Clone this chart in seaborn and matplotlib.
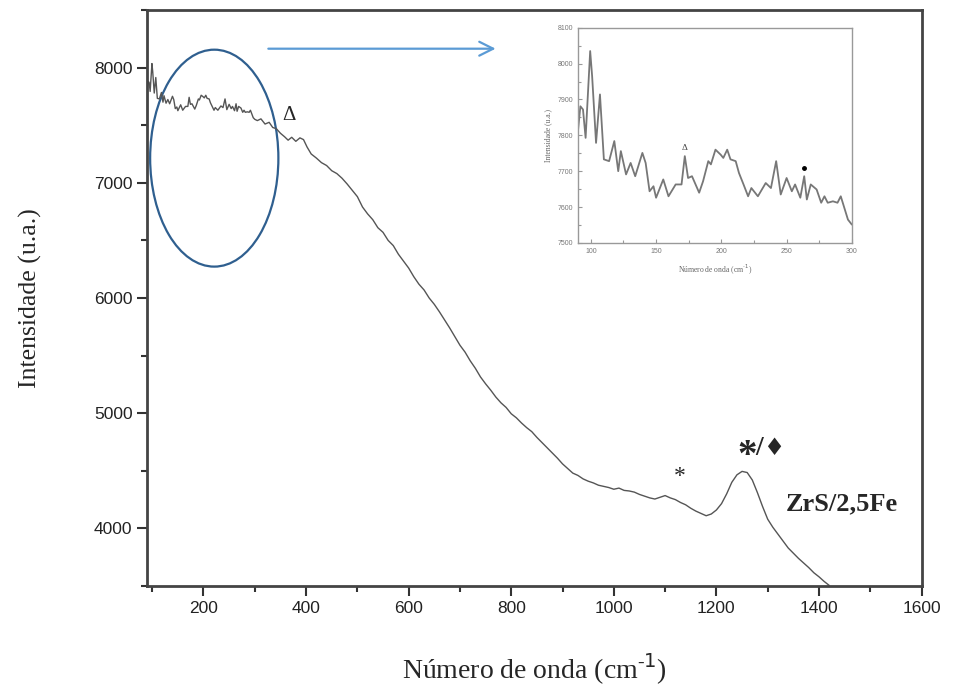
import matplotlib
matplotlib.use("Agg")
import matplotlib.pyplot as plt
import seaborn as sns
import numpy as np
import pandas as pd
from matplotlib.patches import Ellipse
from matplotlib.ticker import MultipleLocator

# ---- data ----
# low wavenumber region (also shown in the inset)
x_low = [90, 92, 94, 96, 99.5, 101, 104, 107, 110, 114, 118, 121, 123, 127, 130.5, 134,
         139.5, 142, 145, 148, 150, 155.5, 159.5, 165, 169.5, 172, 174.5, 177.5, 183, 186,
         190, 192, 195.5, 199.5, 201.5, 204.5, 207, 211, 213.5, 217, 220.5, 223, 228, 234,
         238, 242, 245.5, 250, 254, 256.5, 260.5, 263.5, 265.5, 268.5, 273, 276.5, 279,
         281.5, 285.5, 289, 291.5, 297, 300]
y_low = [7807, 7881, 7872, 7793, 8035, 7965, 7779, 7914, 7733, 7728, 7784, 7700, 7756, 7691,
         7723, 7686, 7751, 7723, 7644, 7658, 7626, 7677, 7630, 7663, 7663, 7742, 7681, 7686,
         7640, 7672, 7728, 7719, 7760, 7746, 7737, 7760, 7733, 7728, 7695, 7663, 7630, 7653,
         7630, 7667, 7653, 7728, 7635, 7681, 7644, 7663, 7626, 7686, 7621, 7663, 7649, 7612,
         7630, 7612, 7616, 7612, 7630, 7565, 7551]

x_high = [305, 312, 320, 328, 335, 342, 350, 358, 365, 372, 380, 388, 395, 402, 410, 420,
          430, 440, 450, 460, 470, 480, 490, 500, 510, 520, 530, 540, 550, 560, 570, 580,
          590, 600, 610, 620, 630, 640, 650, 660, 670, 680, 690, 700, 710, 720, 730, 740,
          750, 760, 770, 780, 790, 800, 810, 820, 830, 840, 850, 860, 870, 880, 890, 900,
          910, 920, 930, 940, 950, 960, 970, 980, 990, 1000, 1010, 1020, 1030, 1040, 1050,
          1060, 1070, 1080, 1090, 1100, 1110, 1120, 1130, 1140, 1150, 1160, 1170, 1180,
          1190, 1200, 1210, 1220, 1230, 1240, 1250, 1260, 1270, 1280, 1290, 1300, 1310,
          1320, 1330, 1340, 1350, 1360, 1370, 1380, 1390, 1400, 1410, 1420]
y_high = [7540, 7555, 7510, 7525, 7480, 7470, 7430, 7400, 7370, 7395, 7360, 7390, 7375, 7310,
          7250, 7215, 7175, 7150, 7105, 7080, 7040, 6990, 6935, 6880, 6790, 6730, 6680, 6610,
          6570, 6500, 6455, 6380, 6320, 6260, 6185, 6120, 6070, 6000, 5945, 5880, 5810, 5740,
          5665, 5590, 5530, 5455, 5390, 5315, 5255, 5200, 5140, 5090, 5050, 4995, 4960, 4915,
          4875, 4840, 4790, 4745, 4700, 4655, 4610, 4560, 4520, 4480, 4460, 4430, 4410, 4395,
          4375, 4365, 4355, 4340, 4350, 4330, 4325, 4315, 4295, 4280, 4265, 4255, 4270, 4285,
          4265, 4250, 4225, 4205, 4175, 4150, 4130, 4110, 4125, 4160, 4215, 4300, 4400, 4465,
          4495, 4485, 4420, 4310, 4190, 4080, 4010, 3950, 3890, 3830, 3785, 3740, 3700, 3660,
          3615, 3580, 3540, 3505]

main_df = pd.DataFrame({"x": x_low + x_high, "y": y_low + y_high})
inset_df = pd.DataFrame({"x": x_low, "y": y_low})

x_ticks = [200, 400, 600, 800, 1000, 1200, 1400, 1600]
y_ticks = [4000, 5000, 6000, 7000, 8000]
inset_xticks = [100, 150, 200, 250, 300]
inset_yticks = [7500, 7600, 7700, 7800, 7900, 8000, 8100]

# ---- style ----
sns.set_style("ticks")
plt.rcParams["font.family"] = ["Liberation Sans", "DejaVu Sans"]

fig = plt.figure(figsize=(9.55, 6.94), dpi=100)
ax = fig.add_axes([0.154, 0.1556, 0.811, 0.830])

sns.lineplot(data=main_df, x="x", y="y", ax=ax, color="#555555", linewidth=1.0,
             sort=False, estimator=None)

ax.set_xlim(90, 1600)
ax.set_ylim(3500, 8500)
ax.set_xticks(x_ticks)
ax.set_yticks(y_ticks)
ax.xaxis.set_minor_locator(MultipleLocator(100))
ax.yaxis.set_minor_locator(MultipleLocator(500))
ax.tick_params(axis="both", which="major", direction="out", length=7, width=1.5,
               labelsize=12.5, colors="#333333", labelcolor="#222222")
ax.tick_params(axis="both", which="minor", direction="out", length=4, width=1.5,
               colors="#333333")
for s in ax.spines.values():
    s.set_color("#444444")
    s.set_linewidth(2)
    s.set_visible(True)

ax.set_xlabel("Número de onda (cm$^{\\mathregular{\u2010}1}$)", family="Liberation Serif",
              fontsize=20, labelpad=26)
ax.set_ylabel("Intensidade (u.a.)", family="Liberation Serif", fontsize=18.5)
ax.yaxis.set_label_coords(-0.136, 0.5)

# annotations in main plot
ax.add_patch(Ellipse((221, 7214), width=250, height=1883, fill=False,
                     edgecolor="#2F5F8F", linewidth=1.6, clip_on=False))
ax.annotate("", xy=(775, 8164), xytext=(321, 8164),
            arrowprops=dict(arrowstyle="->", color="#5B9BD5", lw=1.6,
                            mutation_scale=25), annotation_clip=False)
ax.text(366, 7585, "Δ", family="Liberation Serif", fontsize=15, ha="center", va="center")
ax.text(1128, 4449, "*", family="Liberation Serif", fontsize=17, ha="center", va="center")
ax.text(1259, 4620, "*", family="Liberation Serif", fontsize=28, ha="center", va="center",
        fontweight="bold")
ax.text(1283, 4690, "/", family="Liberation Serif", fontsize=20, ha="center", va="center",
        fontweight="bold")
ax.text(1312, 4700, "♦", family="DejaVu Sans", fontsize=17, ha="center", va="center")
ax.text(1444, 4216, "ZrS/2,5Fe", family="Liberation Serif", fontsize=19,
        fontweight="bold", ha="center", va="center")

# ---- inset ----
axin = fig.add_axes([0.605, 0.650, 0.287, 0.310])
axin.set_facecolor("white")
sns.lineplot(data=inset_df, x="x", y="y", ax=axin, color="#777777", linewidth=1.3,
             sort=False, estimator=None)
axin.set_xlim(90, 300)
axin.set_ylim(7500, 8100)
axin.set_xticks(inset_xticks)
axin.set_yticks(inset_yticks)
axin.xaxis.set_minor_locator(MultipleLocator(25))
axin.yaxis.set_minor_locator(MultipleLocator(50))
axin.tick_params(axis="both", which="major", direction="in", length=3, width=0.8,
                 labelsize=5, colors="#999999", labelcolor="#777777")
axin.tick_params(axis="both", which="minor", direction="in", length=2, width=0.8,
                 colors="#999999")
for s in axin.spines.values():
    s.set_color("#999999")
    s.set_linewidth(1)
axin.set_xlabel("Número de onda (cm$^{\\mathregular{\u2010}1}$)", family="Liberation Serif",
                fontsize=5.5, color="#666666", labelpad=6)
axin.set_ylabel("Intensidade (u.a.)", family="Liberation Serif", fontsize=5.5,
                color="#666666", labelpad=4)
axin.text(172, 7765, "Δ", family="Liberation Serif", fontsize=6.5, ha="center",
          va="center", color="#444444")
axin.plot([263.5], [7710], marker="o", markersize=2.5, color="black")

fig.savefig("out.png", dpi=100)
